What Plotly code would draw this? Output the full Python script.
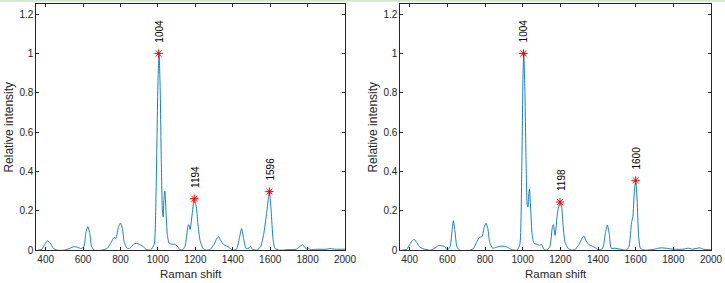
import plotly.graph_objects as go

# ---- data ----
x_left = [360, 380, 395, 410, 425, 440, 460, 500, 530, 550, 570, 590, 605, 615, 625, 635, 645, 660, 700,
          730, 750, 765, 775, 790, 800, 810, 820, 835, 850, 870, 885, 900, 920, 935, 960, 980, 990, 1000,
          1006, 1012, 1018, 1024, 1028, 1032, 1037, 1043, 1050, 1060, 1075, 1090, 1105, 1115, 1130, 1145, 1160,
          1165, 1172, 1185, 1194, 1205, 1215, 1225, 1240, 1260, 1280, 1300, 1315, 1325, 1335, 1350, 1370,
          1385, 1400, 1420, 1435, 1447, 1458, 1470, 1485, 1495, 1505, 1530, 1550, 1565, 1580, 1590, 1596,
          1605, 1615, 1625, 1650, 1700, 1740, 1760, 1772, 1785, 1795, 1805, 1815, 1850, 1900, 1920, 1950, 2000]
y_left = [0.0, 0.005, 0.03, 0.048, 0.035, 0.01, 0.0, 0.0, 0.01, 0.018, 0.015, 0.008, 0.02, 0.09, 0.12, 0.09,
          0.02, 0.0, 0.0, 0.01, 0.04, 0.065, 0.06, 0.12, 0.138, 0.11, 0.04, 0.01, 0.01, 0.03, 0.035, 0.03,
          0.02, 0.005, 0.0, 0.03, 0.3, 0.85, 1.0, 0.82, 0.45, 0.2, 0.17, 0.26, 0.3, 0.2, 0.08, 0.035, 0.03, 0.03,
          0.02, 0.005, 0.0, 0.02, 0.12, 0.13, 0.105, 0.2, 0.262, 0.22, 0.12, 0.05, 0.01, 0.0, 0.005, 0.03,
          0.06, 0.068, 0.05, 0.03, 0.02, 0.01, 0.0, 0.005, 0.06, 0.11, 0.06, 0.01, 0.01, 0.02, 0.005, 0.0,
          0.02, 0.08, 0.18, 0.26, 0.295, 0.2, 0.06, 0.01, 0.0, 0.003, 0.005, 0.02, 0.028, 0.015, 0.005,
          0.01, 0.003, 0.005, 0.005, 0.008, 0.005, 0.005]

x_right = [360, 385, 400, 415, 425, 440, 455, 480, 510, 540, 555, 570, 585, 600, 615, 625, 632, 640, 650, 665,
           720, 740, 755, 770, 785, 795, 805, 815, 825, 840, 860, 880, 900, 920, 940, 970, 985, 995, 1002,
           1006, 1012, 1018, 1024, 1028, 1032, 1036, 1043, 1050, 1060, 1075, 1090, 1100, 1112, 1130, 1145, 1158,
           1163, 1172, 1185, 1198, 1207, 1215, 1225, 1240, 1260, 1280, 1300, 1315, 1325, 1335, 1350, 1370,
           1390, 1400, 1425, 1440, 1450, 1460, 1470, 1490, 1520, 1550, 1565, 1578, 1585, 1593, 1600, 1608,
           1615, 1625, 1650, 1700, 1720, 1740, 1760, 1780, 1800, 1850, 1880, 1900, 1940, 1960, 2000]
y_right = [0.0, 0.005, 0.03, 0.05, 0.055, 0.035, 0.015, 0.005, 0.0, 0.015, 0.025, 0.022, 0.02, 0.0, 0.02, 0.1,
           0.15, 0.1, 0.02, 0.0, 0.0, 0.01, 0.04, 0.065, 0.07, 0.115, 0.138, 0.11, 0.04, 0.01, 0.015, 0.02,
           0.02, 0.015, 0.003, 0.0, 0.03, 0.4, 0.9, 1.0, 0.8, 0.45, 0.23, 0.22, 0.28, 0.31, 0.2, 0.08, 0.035, 0.03,
           0.025, 0.03, 0.005, 0.0, 0.02, 0.12, 0.13, 0.075, 0.19, 0.245, 0.22, 0.12, 0.04, 0.01, 0.0, 0.005,
           0.03, 0.06, 0.073, 0.05, 0.03, 0.02, 0.01, 0.0, 0.01, 0.09, 0.128, 0.08, 0.01, 0.01, 0.005, 0.0,
           0.02, 0.14, 0.17, 0.3, 0.355, 0.25, 0.08, 0.01, 0.0, 0.005, 0.01, 0.012, 0.01, 0.008, 0.005,
           0.005, 0.01, 0.005, 0.012, 0.005, 0.002]

peaks_left_x = [1004, 1194, 1596]
peaks_left_y = [1.0, 0.262, 0.298]
peaks_right_x = [1004, 1198, 1600]
peaks_right_y = [1.0, 0.245, 0.355]

x_ticks = [400, 600, 800, 1000, 1200, 1400, 1600, 1800, 2000]
y_ticks = [0, 0.2, 0.4, 0.6, 0.8, 1.0, 1.2]
y_tick_text = ["0", "0.2", "0.4", "0.6", "0.8", "1", "1.2"]

LINE = "rgb(0,114,189)"
AX = "#262626"
FONT = "Liberation Sans, Arial, sans-serif"

fig = go.Figure()

panels = [
    (x_left, y_left, peaks_left_x, peaks_left_y, "x", "y"),
    (x_right, y_right, peaks_right_x, peaks_right_y, "x2", "y2"),
]
for xs, ys, px, py, xa, ya in panels:
    fig.add_trace(go.Scatter(x=xs, y=ys, mode="lines", line=dict(color=LINE, width=0.9, shape="spline", smoothing=0.5),
                             xaxis=xa, yaxis=ya, showlegend=False, hoverinfo="skip"))
    fig.add_trace(go.Scatter(x=px, y=py, mode="markers",
                             marker=dict(symbol="asterisk-open", size=7, color="red", line=dict(color="red", width=1)),
                             xaxis=xa, yaxis=ya, showlegend=False, hoverinfo="skip"))
    for a, b in zip(px, py):
        fig.add_annotation(x=a, y=b, xref=xa, yref=ya, text=str(a), textangle=-90, showarrow=False,
                           xanchor="center", yanchor="bottom", yshift=9, xshift=1,
                           font=dict(family=FONT, size=10, color="black"))

common_x = dict(range=[350, 2000], tickvals=x_ticks, ticks="inside", ticklen=3, tickcolor=AX,
                showline=True, linecolor=AX, linewidth=0.8, mirror="ticks", showgrid=False, zeroline=False,
                automargin=False, tickfont=dict(family=FONT, size=10, color=AX),
                title=dict(text="Raman shift", font=dict(family=FONT, size=11.5, color=AX), standoff=5))
common_y = dict(range=[0, 1.25], tickvals=y_ticks, ticktext=y_tick_text, ticks="inside", ticklen=3, tickcolor=AX,
                showline=True, linecolor=AX, linewidth=0.8, mirror="ticks", showgrid=False, zeroline=False,
                automargin=False, tickfont=dict(family=FONT, size=10, color=AX),
                title=dict(text="Relative intensity", font=dict(family=FONT, size=12, color=AX), standoff=3))

ydom = [0.1159, 0.9848]
fig.update_layout(
    width=725, height=283, margin=dict(l=0, r=0, t=0, b=0, autoexpand=False),
    paper_bgcolor="white", plot_bgcolor="white",
    xaxis=dict(domain=[0.0501, 0.4759], anchor="y", **common_x),
    yaxis=dict(domain=ydom, anchor="x", **common_y),
    xaxis2=dict(domain=[0.5521, 0.9807], anchor="y2", **common_x),
    yaxis2=dict(domain=ydom, anchor="x2", **common_y),
    shapes=[dict(type="line", xref="paper", yref="paper", x0=0, x1=1, y0=0.997, y1=0.997,
                 line=dict(color="#cfe6cf", width=2))],
)

fig.write_html("out.html")
